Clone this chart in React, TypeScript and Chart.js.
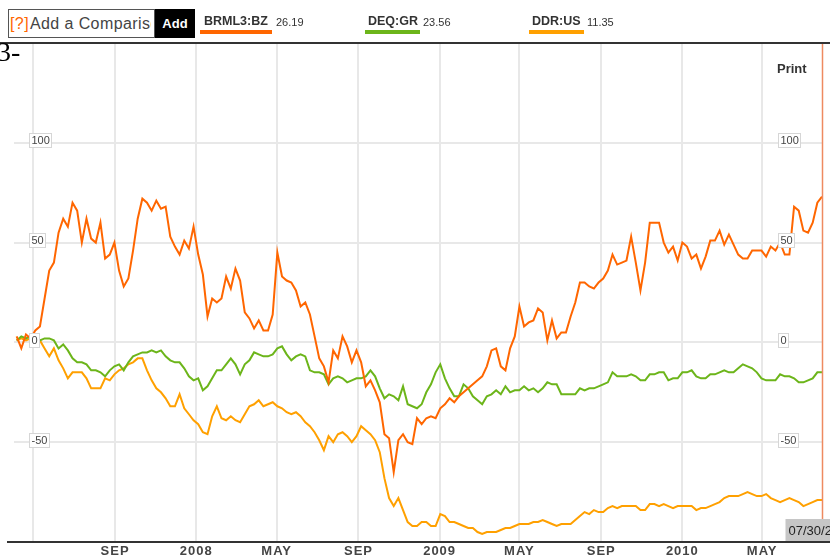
import React, { useEffect, useRef } from 'react';
import { Chart, registerables } from 'chart.js';

Chart.register(...registerables);

// ---- data ----
const SERIES_NAMES = ['BRML3:BZ', 'DEQ:GR', 'DDR:US'];
const LAST_PRICES = ['26.19', '23.56', '11.35'];
const SERIES_COLORS = ['#ff6600', '#6cb51a', '#ffa000'];

// weekly samples, % change, starting early April 2007 (day index counted from 2007-01-01)
const START_DAY = 95;
const STEP_DAYS = 7;
const LAST_DATE_LABEL = '07/30/2010';

const BRML3_BZ = [
  3, -3, 4, 2, 6, 8, 22, 36, 40, 55,
  62, 58, 70, 66, 50, 62, 52, 50, 60, 42,
  44, 50, 36, 28, 32, 46, 62, 72, 70, 66,
  71, 67, 68, 53, 48, 44, 51, 47, 58, 44,
  34, 13, 22, 20, 22, 33, 27, 37, 31, 15,
  12, 7, 11, 6, 6, 14, 45, 33, 31, 30,
  26, 18, 20, 14, 3, -8, -12, -20, -4, -8,
  3, -2, -10, -4, -10, -22, -19, -24, -30, -46,
  -48, -65, -49, -46, -50, -51, -38, -41, -38, -37,
  -38, -33, -31, -28, -30, -27, -25, -23, -21, -19,
  -17, -12, -4, -3, -12, -14, -3, 3, 18, 8,
  10, 11, 17, 15, 1, 11, 2, 5, 5, 13,
  20, 30, 30, 28, 27, 30, 32, 36, 44, 39,
  40, 41, 53, 40, 26, 40, 60, 60, 60, 50,
  45, 48, 41, 50, 48, 42, 44, 37, 43, 51,
  51, 56, 49, 54, 49, 44, 42, 42, 46, 46,
  46, 43, 48, 46, 50, 44, 44, 68, 66, 56,
  55, 60, 70, 73,
];

const DEQ_GR = [
  1, 3, 2, 3, 2, 1, 2, 2, 1, -3,
  -1, -4, -8, -10, -10, -11, -14, -14, -15, -17,
  -14, -12, -11, -14, -10, -7, -6, -5, -5, -4,
  -5, -4, -7, -9, -10, -10, -13, -17, -19, -18,
  -24, -22, -18, -14, -14, -11, -8, -11, -16, -11,
  -9, -5, -6, -7, -7, -6, -3, -2, -6, -9,
  -7, -6, -7, -14, -15, -15, -16, -21, -18, -17,
  -18, -20, -19, -18, -18, -17, -14, -17, -23, -28,
  -26, -27, -29, -22, -31, -32, -33, -31, -25, -21,
  -15, -11, -18, -23, -27, -27, -21, -23, -27, -29,
  -31, -27, -26, -24, -26, -22, -25, -24, -24, -22,
  -24, -23, -25, -23, -20, -21, -21, -26, -26, -26,
  -26, -23, -24, -23, -23, -22, -21, -20, -15, -17,
  -17, -17, -16, -17, -19, -19, -16, -16, -15, -15,
  -19, -18, -18, -15, -15, -14, -17, -18, -18, -16,
  -16, -15, -14, -15, -15, -13, -11, -12, -13, -15,
  -18, -19, -19, -19, -16, -17, -17, -18, -20, -20,
  -19, -18, -15, -15,
];

const DDR_US = [
  1, 2, 1, 2, 2, 1, -3, -7, -3, -9,
  -13, -18, -15, -15, -15, -18, -23, -23, -23, -18,
  -19, -16, -14, -13, -11, -10, -8, -8, -14, -19,
  -23, -25, -28, -32, -32, -26, -33, -36, -39, -41,
  -45, -46, -37, -32, -38, -39, -37, -39, -40, -36,
  -32, -31, -29, -32, -31, -30, -32, -33, -35, -36,
  -35, -37, -40, -42, -45, -49, -54, -47, -50, -46,
  -45, -47, -50, -47, -42, -44, -46, -49, -55, -68,
  -78, -82, -78, -84, -90, -92, -92, -90, -90, -92,
  -92, -86, -87, -90, -90, -91, -92, -93, -93, -95,
  -96, -95, -95, -95, -94, -93, -93, -92, -91, -91,
  -91, -90, -90, -89, -90, -91, -92, -91, -91, -91,
  -89, -87, -85, -86, -84, -85, -85, -83, -82, -83,
  -82, -82, -82, -82, -84, -84, -81, -81, -82, -81,
  -82, -83, -82, -82, -82, -82, -84, -83, -83, -82,
  -81, -80, -78, -77, -77, -77, -76, -75, -76, -77,
  -77, -76, -78, -79, -80, -79, -78, -79, -80, -82,
  -81, -80, -79, -79,
];

const SERIES_VALUES = [BRML3_BZ, DEQ_GR, DDR_US];

// x axis: day-of-period for month starts, and their labels
const X_TICK_DAYS = [120, 243, 365, 486, 609, 731, 851, 974, 1096, 1216];
const X_TICK_LABELS = ['', 'SEP', '2008', 'MAY', 'SEP', '2009', 'MAY', 'SEP', '2010', 'MAY'];
const Y_TICKS = [-50, 0, 50, 100];

const X_MIN = 91;
const Y_MIN = -100;
const Y_MAX = 150;

const SANS = '"Liberation Sans", Arial, Helvetica, sans-serif';

export default function App() {
  const canvasRef = useRef<HTMLCanvasElement>(null);

  useEffect(() => {
    const canvas = canvasRef.current;
    if (!canvas) return;
    const lastDay = START_DAY + (BRML3_BZ.length - 1) * STEP_DAYS;

    const decor = {
      id: 'decor',
      beforeDraw(chart: any) {
        chart.ctx.letterSpacing = '1px';
      },
      beforeDatasetsDraw(chart: any) {
        chart.ctx.letterSpacing = '0px';
      },
      afterDatasetsDraw(chart: any) {
        const ctx = chart.ctx as CanvasRenderingContext2D;
        const xs = chart.scales.x;
        const ys = chart.scales.y;
        const area = chart.chartArea;
        ctx.save();
        (ctx as any).letterSpacing = '0px';

        // current-date marker line
        const lx = Math.round(xs.getPixelForValue(lastDay)) + 0.5;
        ctx.strokeStyle = '#ee8a60';
        ctx.lineWidth = 1.5;
        ctx.beginPath();
        ctx.moveTo(lx, area.top);
        ctx.lineTo(lx, 519);
        ctx.stroke();

        // boxed value labels, left and right
        ctx.font = '11px ' + SANS;
        ctx.textBaseline = 'middle';
        ctx.textAlign = 'left';
        for (const v of Y_TICKS) {
          const py = Math.round(ys.getPixelForValue(v) - 2.5);
          const t = String(v);
          const w = Math.round(ctx.measureText(t).width);
          for (const bx of [area.left + 15, area.right - 44]) {
            ctx.fillStyle = '#ffffff';
            ctx.fillRect(bx, py - 7, w + 4, 15);
            ctx.strokeStyle = '#d6d6d6';
            ctx.lineWidth = 1;
            ctx.strokeRect(bx + 0.5, py - 7 + 0.5, w + 4, 14);
            ctx.fillStyle = '#444444';
            ctx.fillText(t, bx + 2.5, py + 1);
          }
        }

        // date tag
        ctx.fillStyle = '#c6c6c6';
        ctx.fillRect(lx - 37, 519, chart.width - (lx - 37), 22);
        ctx.fillStyle = '#222222';
        ctx.font = '13px ' + SANS;
        ctx.textBaseline = 'alphabetic';
        ctx.fillText(LAST_DATE_LABEL, lx - 34, 535);
        ctx.restore();
      },
    };

    const chart = new Chart(canvas, {
      type: 'line',
      data: {
        datasets: SERIES_VALUES.map((vals, s) => ({
          label: SERIES_NAMES[s],
          data: vals.map((v, i) => ({ x: START_DAY + i * STEP_DAYS, y: v })),
          borderColor: SERIES_COLORS[s],
          backgroundColor: SERIES_COLORS[s],
          borderWidth: 2,
          pointRadius: 0,
          tension: 0,
          fill: false,
        })),
      },
      options: {
        responsive: false,
        animation: false,
        devicePixelRatio: 1,
        layout: { padding: { left: 14, right: 8, top: 43, bottom: 0 } },
        plugins: {
          legend: { display: false },
          tooltip: { enabled: false },
        },
        scales: {
          x: {
            type: 'linear',
            min: X_MIN,
            max: lastDay,
            afterBuildTicks: (scale: any) => {
              scale.ticks = X_TICK_DAYS.map((d) => ({ value: d }));
            },
            afterFit: (scale: any) => {
              scale.height = 18;
            },
            ticks: {
              autoSkip: false,
              maxRotation: 0,
              padding: 2,
              color: '#444444',
              font: { family: SANS, size: 13, weight: 'bold' },
              callback: (value: any) => {
                const k = X_TICK_DAYS.indexOf(Number(value));
                return k >= 0 ? X_TICK_LABELS[k] : '';
              },
            },
            grid: { color: '#e8e8e8', lineWidth: 2, drawTicks: false },
            border: { display: false },
          },
          y: {
            type: 'linear',
            min: Y_MIN,
            max: Y_MAX,
            afterBuildTicks: (scale: any) => {
              scale.ticks = Y_TICKS.map((v) => ({ value: v }));
            },
            afterFit: (scale: any) => {
              scale.width = 0;
            },
            ticks: { display: false },
            grid: { color: '#e8e8e8', lineWidth: 2, drawTicks: false },
            border: { display: false },
          },
        },
      } as any,
      plugins: [decor],
    });

    return () => {
      chart.destroy();
    };
  }, []);

  const legendLayout = [
    { name: 204, value: 276, bar: 200, barW: 72 },
    { name: 368, value: 423, bar: 365, barW: 55 },
    { name: 532, value: 587, bar: 529, barW: 55 },
  ];

  return (
    <div
      style={{
        position: 'absolute',
        left: 0,
        top: 0,
        width: 830,
        height: 560,
        overflow: 'hidden',
        background: '#ffffff',
        fontFamily: SANS,
      }}
    >
      <canvas
        ref={canvasRef}
        width={830}
        height={560}
        style={{ position: 'absolute', left: 0, top: 0, width: 830, height: 560 }}
      />

      {/* comparison input */}
      <div
        style={{
          position: 'absolute',
          left: 8,
          top: 9,
          width: 147,
          height: 29,
          boxSizing: 'border-box',
          border: '1px solid #555',
          background: '#fff',
        }}
      >
        <div
          style={{
            position: 'absolute',
            left: 1,
            top: 0,
            width: 141,
            height: 27,
            overflow: 'hidden',
            whiteSpace: 'nowrap',
            fontSize: 16,
            lineHeight: '27px',
            letterSpacing: '0.4px',
            color: '#444',
          }}
        >
          <span style={{ color: '#ff6600' }}>[?]</span>
          <span style={{ marginLeft: 1 }}>Add a Comparison</span>
        </div>
      </div>
      <div
        style={{
          position: 'absolute',
          left: 155,
          top: 9,
          width: 40,
          height: 29,
          background: '#000',
          color: '#fff',
          fontWeight: 'bold',
          fontSize: 13,
          lineHeight: '29px',
          textAlign: 'center',
        }}
      >
        Add
      </div>

      {/* legend */}
      {SERIES_NAMES.map((name, s) => (
        <React.Fragment key={name}>
          <div
            style={{
              position: 'absolute',
              left: legendLayout[s].name,
              top: 14,
              fontSize: 12.5,
              fontWeight: 'bold',
              lineHeight: '15px',
              color: '#333',
              whiteSpace: 'nowrap',
            }}
          >
            {name}
          </div>
          <div
            style={{
              position: 'absolute',
              left: legendLayout[s].value,
              top: 15,
              fontSize: 11,
              lineHeight: '15px',
              color: '#333',
              whiteSpace: 'nowrap',
            }}
          >
            {LAST_PRICES[s]}
          </div>
          <div
            style={{
              position: 'absolute',
              left: legendLayout[s].bar,
              top: 30,
              width: legendLayout[s].barW,
              height: 4,
              background: SERIES_COLORS[s],
            }}
          />
        </React.Fragment>
      ))}

      {/* frame lines */}
      <div style={{ position: 'absolute', left: 0, top: 42, width: 830, height: 2, background: '#333' }} />
      <div style={{ position: 'absolute', left: 7, top: 541, width: 823, height: 2, background: '#333' }} />

      {/* stray page glyph at top-left */}
      <div
        style={{
          position: 'absolute',
          left: -3,
          top: 38,
          fontFamily: '"Liberation Serif", "Times New Roman", serif',
          fontSize: 28,
          lineHeight: '28px',
          color: '#000',
          whiteSpace: 'nowrap',
        }}
      >
        3-
      </div>

      <div
        style={{
          position: 'absolute',
          left: 777,
          top: 61,
          fontSize: 13,
          fontWeight: 'bold',
          lineHeight: '15px',
          color: '#333',
        }}
      >
        Print
      </div>
    </div>
  );
}
